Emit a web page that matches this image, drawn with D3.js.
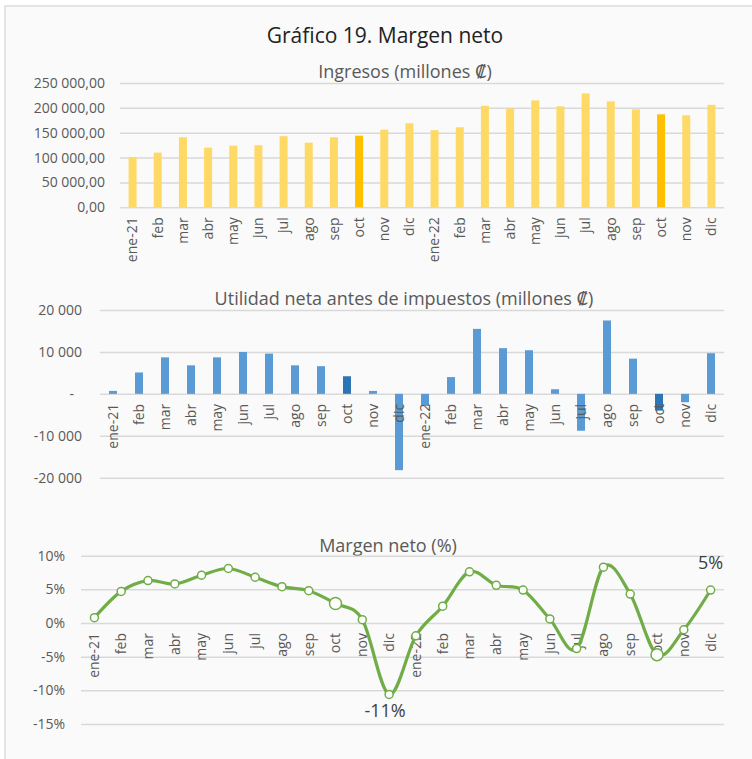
<!DOCTYPE html>
<html lang="es">
<head>
<meta charset="utf-8">
<title>Gráfico 19. Margen neto</title>
<script src="https://cdn.jsdelivr.net/npm/d3@7"></script>
<style>
  body { margin: 0; background: #fff; }
  svg text { font-family: "Open Sans", "DejaVu Sans", sans-serif; fill: #595959; }
  .tick line { stroke: #d9d9d9; stroke-width: 1.5; }
  .tick text { font-size: 14px; }
</style>
</head>
<body>
<script>
// meses (dos años)
var meses = ["ene-21","feb","mar","abr","may","jun","jul","ago","sep","oct","nov","dic",
             "ene-22","feb","mar","abr","may","jun","jul","ago","sep","oct","nov","dic"];
// millones de colones
var ingresos = [101000,110000,141000,120000,124000,125000,143000,130000,141000,144000,156000,169000,
                155000,161000,204000,199000,215000,203000,229000,213000,197000,187000,185000,206000];
var utilidad = [700,5100,8700,6800,8700,10000,9600,6800,6600,4200,700,-18200,
                -2900,4000,15500,10900,10400,1100,-8800,17500,8400,-4000,-2000,9700];
// porcentaje
var margen = [0.8,4.7,6.3,5.8,7.1,8.1,6.8,5.4,4.8,2.9,0.5,-10.6,
              -1.9,2.5,7.6,5.6,4.9,0.6,-3.8,8.3,4.3,-4.7,-1.0,4.9];
var destacados = [9, 21];      // oct de cada año
var conEtiqueta = [11, 23];    // puntos con etiqueta de dato
var ticksIngresos = [0,50000,100000,150000,200000,250000];
var ticksUtilidad = [-20000,-10000,0,10000,20000];
var ticksMargen = [-0.15,-0.10,-0.05,0,0.05,0.10];

var W = 752, H = 759;
var loc = d3.formatLocale({decimal: ",", thousands: " ", grouping: [3], currency: ["", ""], minus: "-", percent: "%"});
var fmt2 = loc.format(",.2f"), fmt0 = loc.format(",.0f"), fmtPct = loc.format(".0%");

var svg = d3.select("body").append("svg")
    .attr("width", W)
    .attr("height", H);

// fondo y marco
svg.append("rect")
    .attr("x", 5).attr("y", 6)
    .attr("width", 800).attr("height", 800)
    .attr("fill", "#fafafa")
    .attr("stroke", "#e4e4e4")
    .attr("stroke-width", 2);

svg.append("text")
    .attr("x", 385).attr("y", 43)
    .attr("text-anchor", "middle")
    .style("font-size", "21px")
    .style("fill", "#222")
    .text("Gráfico 19. Margen neto");

function titulo(x, y, t) {
    svg.append("text")
        .attr("x", x).attr("y", y)
        .attr("text-anchor", "middle")
        .style("font-size", "18px")
        .text(t);
}

// grilla horizontal + etiquetas del eje y
function ejeY(x, y, ticks, fmt, pad) {
    var g = svg.append("g")
        .attr("transform", "translate(" + x.range()[0] + ",0)")
        .call(d3.axisLeft(y).tickValues(ticks).tickFormat(fmt)
            .tickSize(-(x.range()[1] - x.range()[0])).tickPadding(pad));
    g.select(".domain").remove();
    return g;
}

// etiquetas de meses rotadas, pegadas a la línea del cero
function ejeX(x, y) {
    var gx = svg.append("g")
        .attr("transform", "translate(0," + y(0) + ")")
        .call(d3.axisBottom(x).tickSize(0).tickFormat(function(i){ return meses[i]; }));
    gx.select(".domain").remove();
    gx.selectAll("text")
        .attr("transform", "rotate(-90)")
        .attr("text-anchor", "end")
        .attr("x", -10)
        .attr("y", 0)
        .attr("dy", "0.35em");
    return gx;
}

// ---- Ingresos ----
titulo(405, 78, "Ingresos (millones ₡)");
var x1 = d3.scaleBand().domain(d3.range(24)).range([120, 724]);
var y1 = d3.scaleLinear().domain([0, 250000]).range([207.3, 83]);
ejeY(x1, y1, ticksIngresos, fmt2, 15);
var bw1 = 8;
svg.append("g").selectAll("rect")
    .data(ingresos)
    .enter()
    .append("rect")
    .attr("x", function(d, i){ return x1(i) + x1.bandwidth()/2 - bw1/2; })
    .attr("y", function(d){ return y1(d); })
    .attr("width", bw1)
    .attr("height", function(d){ return y1(0) - y1(d); })
    .attr("fill", function(d, i){ return destacados.indexOf(i) >= 0 ? "#FFC000" : "#FFD966"; });
ejeX(x1, y1);

// ---- Utilidad ----
titulo(404, 305, "Utilidad neta antes de impuestos (millones ₡)");
var x2 = d3.scaleBand().domain(d3.range(24)).range([100, 724]);
var y2 = d3.scaleLinear().domain([-20000, 20000]).range([477.7, 310]);
var g2 = ejeY(x2, y2, ticksUtilidad, function(d){ return d === 0 ? "-" : fmt0(d); }, 18);
// el guion del cero queda algo más a la izquierda (formato contable)
g2.selectAll(".tick text").filter(function(d){ return d === 0; }).attr("dx", -8);
var bw2 = 8;
svg.append("g").selectAll("rect")
    .data(utilidad)
    .enter()
    .append("rect")
    .attr("x", function(d, i){ return x2(i) + x2.bandwidth()/2 - bw2/2; })
    .attr("y", function(d){ return y2(Math.max(d, 0)); })
    .attr("width", bw2)
    .attr("height", function(d){ return Math.abs(y2(d) - y2(0)); })
    .attr("fill", function(d, i){ return destacados.indexOf(i) >= 0 ? "#2E75B6" : "#5B9BD5"; });
// las etiquetas van encima de las barras
ejeX(x2, y2);

// ---- Margen neto ----
titulo(388, 552, "Margen neto (%)");
var x3 = d3.scaleBand().domain(d3.range(24)).range([81, 724]);
var y3 = d3.scaleLinear().domain([-0.15, 0.10]).range([724, 555.7]);
ejeY(x3, y3, ticksMargen, fmtPct, 16);
ejeX(x3, y3);

var linea = d3.line()
    .x(function(d, i){ return x3(i) + x3.bandwidth()/2; })
    .y(function(d){ return y3(d / 100); })
    .curve(d3.curveCardinal.tension(0));
svg.append("path")
    .datum(margen)
    .attr("d", linea)
    .attr("fill", "none")
    .attr("stroke", "#70AD47")
    .attr("stroke-width", 3.2)
    .attr("stroke-linejoin", "round");

svg.append("g").selectAll("circle")
    .data(margen)
    .enter()
    .append("circle")
    .attr("cx", function(d, i){ return x3(i) + x3.bandwidth()/2; })
    .attr("cy", function(d){ return y3(d / 100); })
    .attr("r", function(d, i){ return destacados.indexOf(i) >= 0 ? 6 : 4; })
    .attr("fill", "#fff")
    .attr("stroke", "#70AD47")
    .attr("stroke-width", 1.5);

svg.append("g").selectAll("text")
    .data(conEtiqueta)
    .enter()
    .append("text")
    .attr("x", function(i){ return x3(i) + x3.bandwidth()/2 + (margen[i] < 0 ? -4 : 0); })
    .attr("y", function(i){ return y3(margen[i] / 100) + (margen[i] < 0 ? 23 : -21); })
    .attr("text-anchor", "middle")
    .style("font-size", "18px")
    .style("fill", "#404040")
    .text(function(i){ return fmtPct(margen[i] / 100); });
</script>
</body>
</html>
